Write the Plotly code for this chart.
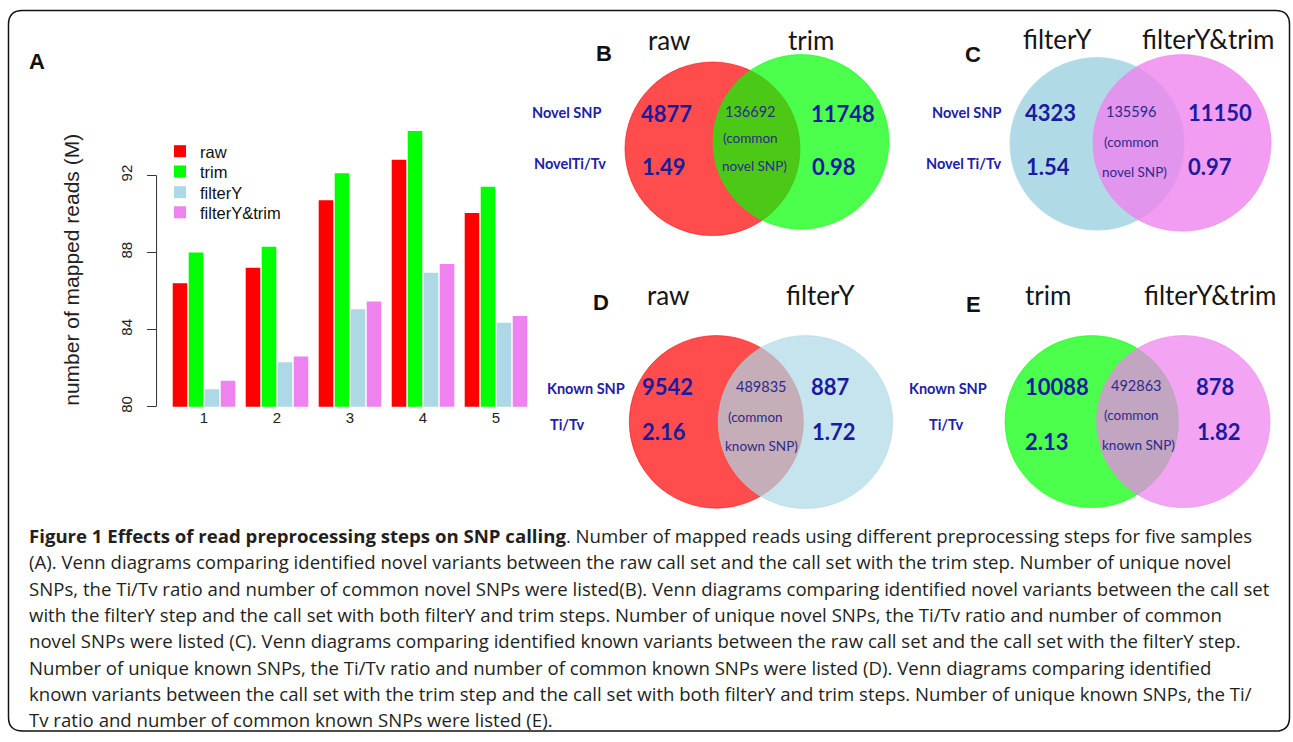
import plotly.graph_objects as go

W, H = 1293, 742

# ---------------- data ----------------
samples = [1, 2, 3, 4, 5]
sample_labels = ["1", "2", "3", "4", "5"]
series_names = ["raw", "trim", "filterY", "filterY&trim"]
raw_reads = [86.4, 87.2, 90.7, 92.8, 90.05]
trim_reads = [88.0, 88.3, 92.1, 94.3, 91.4]
filterY_reads = [80.9, 82.3, 85.05, 86.95, 84.35]
filterYtrim_reads = [81.35, 82.6, 85.45, 87.4, 84.7]
y_ticks = [80, 84, 88, 92]
y_title = "number of mapped reads (M)"

venn_letters = ["B", "C", "D", "E"]
venn_left_sets = ["raw", "filterY", "raw", "trim"]
venn_right_sets = ["trim", "filterY&trim", "filterY", "filterY&trim"]
venn_left_unique = [4877, 4323, 9542, 10088]
venn_right_unique = [11748, 11150, 887, 878]
venn_common = [136692, 135596, 489835, 492863]
venn_left_titv = ["1.49", "1.54", "2.16", "2.13"]
venn_right_titv = ["0.98", "0.97", "1.72", "1.82"]
venn_row1_labels = ["Novel SNP", "Novel SNP", "Known SNP", "Known SNP"]
venn_row2_labels = ["NovelTi/Tv", "Novel Ti/Tv", "Ti/Tv", "Ti/Tv"]
venn_common_kind = ["novel SNP)", "novel SNP)", "known SNP)", "known SNP)"]

caption_lines = [
    "<b>Figure 1 Effects of read preprocessing steps on SNP calling</b>. Number of mapped reads using different preprocessing steps for five samples",
    "(A). Venn diagrams comparing identified novel variants between the raw call set and the call set with the trim step. Number of unique novel",
    "SNPs, the Ti/Tv ratio and number of common novel SNPs were listed(B). Venn diagrams comparing identified novel variants between the call set",
    "with the filterY step and the call set with both filterY and trim steps. Number of unique novel SNPs, the Ti/Tv ratio and number of common",
    "novel SNPs were listed (C). Venn diagrams comparing identified known variants between the raw call set and the call set with the filterY step.",
    "Number of unique known SNPs, the Ti/Tv ratio and number of common known SNPs were listed (D). Venn diagrams comparing identified",
    "known variants between the call set with the trim step and the call set with both filterY and trim steps. Number of unique known SNPs, the Ti/",
    "Tv ratio and number of common known SNPs were listed (E).",
]

# ---------------- styling / layout ----------------
bar_colors = ["#FF0000", "#00FF00", "#ADD8E6", "#EE82EE"]
legend_rows_px = [152.7, 173.3, 194.0, 214.3]
legend_x_px = 160

venn_fill = [
    ("rgba(255,0,0,0.70)", "rgba(0,255,0,0.70)"),
    ("rgba(173,216,230,0.95)", "rgba(238,130,238,0.78)"),
    ("rgba(255,0,0,0.70)", "rgba(173,216,230,0.70)"),
    ("rgba(0,255,0,0.70)", "rgba(238,130,238,0.72)"),
]
venn_pos = [
    dict(letter=(604, 54), lt=(669, 40), rt=(810.5, 40), lc=(712.5, 150, 87.5), rc=(801, 143, 88),
         r1=(566.7, 113.3), r2=(570, 165), ln=(666.7, 114.3), lv=(663.7, 168), rn=(843.3, 114), rv=(834, 168),
         cm=[(749.5, 112), (750.8, 139.5), (754.5, 167)]),
    dict(letter=(973, 55), lt=(1057.5, 39), rt=(1208.3, 39), lc=(1097, 145, 87), rc=(1182, 144, 89),
         r1=(966, 113.3), r2=(963, 165), ln=(1050, 113.3), lv=(1047.5, 168), rn=(1220, 113), rv=(1210, 168),
         cm=[(1131, 112), (1131, 143), (1134.5, 173)]),
    dict(letter=(601, 305), lt=(668.5, 297), rt=(820.5, 297), lc=(716.3, 425.3, 87), rc=(805.5, 425.5, 87.2),
         r1=(586, 391.7), r2=(567, 428), ln=(667, 390), lv=(664, 435), rn=(830, 390), rv=(833.5, 435),
         cm=[(761, 389.3), (755, 420), (761.7, 450)]),
    dict(letter=(973, 306.5), lt=(1048, 297), rt=(1210, 297), lc=(1091.7, 425, 86.7), rc=(1183.3, 425, 86.7),
         r1=(947.5, 391.7), r2=(946, 428), ln=(1056.7, 390), lv=(1047, 445), rn=(1215, 390), rv=(1219, 435),
         cm=[(1135.8, 388.3), (1131, 418.3), (1138.5, 448.3)]),
]

NUM_COLOR = "#1b1b9e"
LAB_COLOR = "#2020a8"
CMN_COLOR = "#2b2b8c"


def X(px):
    return px / W


def Y(py):
    return 1 - py / H


fig = go.Figure()

series = [raw_reads, trim_reads, filterY_reads, filterYtrim_reads]
for i, (name, vals, col) in enumerate(zip(series_names, series, bar_colors)):
    fig.add_trace(go.Bar(
        x=samples, y=vals, name=name,
        marker=dict(color=col, line=dict(width=0)),
        legend="legend" if i == 0 else f"legend{i + 1}",
        hoverinfo="skip",
    ))

legend_common = dict(xanchor="left", yanchor="middle", bgcolor="rgba(0,0,0,0)", borderwidth=0,
                     font=dict(family="Liberation Sans", size=16.5, color="#111"), itemwidth=30)
legends = {}
for i, ypx in enumerate(legend_rows_px):
    key = "legend" if i == 0 else f"legend{i + 1}"
    legends[key] = dict(x=X(legend_x_px), y=Y(ypx), **legend_common)

fig.update_layout(
    width=W, height=H, autosize=False,
    margin=dict(l=0, r=0, t=0, b=0),
    paper_bgcolor="white", plot_bgcolor="rgba(0,0,0,0)",
    barmode="group", bargap=0.123, bargroupgap=0.09,
    showlegend=True,
    **legends,
    xaxis=dict(domain=[156.55 / W, 532.5 / W], range=[0.35, 5.5], tickvals=samples, ticktext=sample_labels,
               showgrid=False, zeroline=False, showline=False, ticks="", fixedrange=True,
               tickfont=dict(family="Liberation Sans", size=15, color="#222")),
    yaxis=dict(domain=[(H - 410) / H, (H - 118.4) / H], range=[80, 95], tickvals=y_ticks,
               showgrid=False, zeroline=False, showline=False, ticks="outside", ticklen=9,
               tickwidth=1, tickcolor="#333", tickangle=-90, ticklabelstandoff=9, fixedrange=True,
               tickfont=dict(family="Liberation Sans", size=15, color="#222")),
)

# y axis line only over the tick range (R style)
fig.add_shape(type="line", xref="x domain", yref="y", x0=0, x1=0, y0=y_ticks[0], y1=y_ticks[-1],
              line=dict(color="#333", width=1))

# outer rounded frame
L, T, R, B, rr = 8.5, 10.5, 1289.5, 737.0, 14
pts = [
    ("M", (L + rr, T)), ("L", (R - rr, T)), ("Q", (R, T), (R, T + rr)), ("L", (R, B - rr)),
    ("Q", (R, B), (R - rr, B)), ("L", (L + rr, B)), ("Q", (L, B), (L, B - rr)), ("L", (L, T + rr)),
    ("Q", (L, T), (L + rr, T)),
]
path = ""
for p in pts:
    cmd = p[0]
    coords = " ".join(f"{X(a):.6f},{Y(b):.6f}" for a, b in p[1:])
    path += f"{cmd}{coords} "
path += "Z"
fig.add_shape(type="path", path=path, xref="paper", yref="paper",
              line=dict(color="#111", width=1.5), fillcolor="rgba(0,0,0,0)")


def txt(x, y, text, size, color="#111", family="Lato", anchor="center", angle=0):
    fig.add_annotation(x=X(x), y=Y(y), xref="paper", yref="paper", text=text, showarrow=False,
                       font=dict(size=size, color=color, family=family), xanchor=anchor,
                       yanchor="middle", textangle=angle)


# panel A labels
txt(36.7, 62.5, "<b>A</b>", 22, family="Liberation Sans")
txt(72, 272, y_title, 21, color="#222", family="Liberation Sans", angle=-90)


def circle(cx, cy, r, fill, line):
    fig.add_shape(type="circle", xref="paper", yref="paper", x0=X(cx - r), x1=X(cx + r),
                  y0=Y(cy + r), y1=Y(cy - r), fillcolor=fill, line=dict(color=line, width=0.8),
                  layer="above")


for k in range(4):
    p = venn_pos[k]
    lf, rf = venn_fill[k]
    circle(*p["lc"], lf, lf)
    circle(*p["rc"], rf, rf)
    txt(*p["letter"], f"<b>{venn_letters[k]}</b>", 22, family="Liberation Sans")
    txt(*p["lt"], venn_left_sets[k], 26, color="#151515")
    txt(*p["rt"], venn_right_sets[k], 26, color="#151515")
    txt(*p["r1"], f"<b>{venn_row1_labels[k]}</b>", 14.5, color=LAB_COLOR)
    txt(*p["r2"], f"<b>{venn_row2_labels[k]}</b>", 14.5, color=LAB_COLOR)
    txt(*p["ln"], f"<b>{venn_left_unique[k]}</b>", 22, color=NUM_COLOR)
    txt(*p["lv"], f"<b>{venn_left_titv[k]}</b>", 22, color=NUM_COLOR)
    txt(*p["rn"], f"<b>{venn_right_unique[k]}</b>", 22, color=NUM_COLOR)
    txt(*p["rv"], f"<b>{venn_right_titv[k]}</b>", 22, color=NUM_COLOR)
    c1, c2, c3 = p["cm"]
    txt(*c1, str(venn_common[k]), 14.5, color=CMN_COLOR)
    txt(*c2, "(common", 13.5, color=CMN_COLOR)
    txt(*c3, venn_common_kind[k], 13.5, color=CMN_COLOR)

# caption
for i, line in enumerate(caption_lines):
    txt(26.7, 540 + 26.5 * i, line, 18.6, color="#231f20", family="Open Sans", anchor="left")

fig.write_html("out.html", config={"displayModeBar": False, "staticPlot": True},
               post_script="document.body.style.margin='0px';document.body.style.overflow='hidden';")
